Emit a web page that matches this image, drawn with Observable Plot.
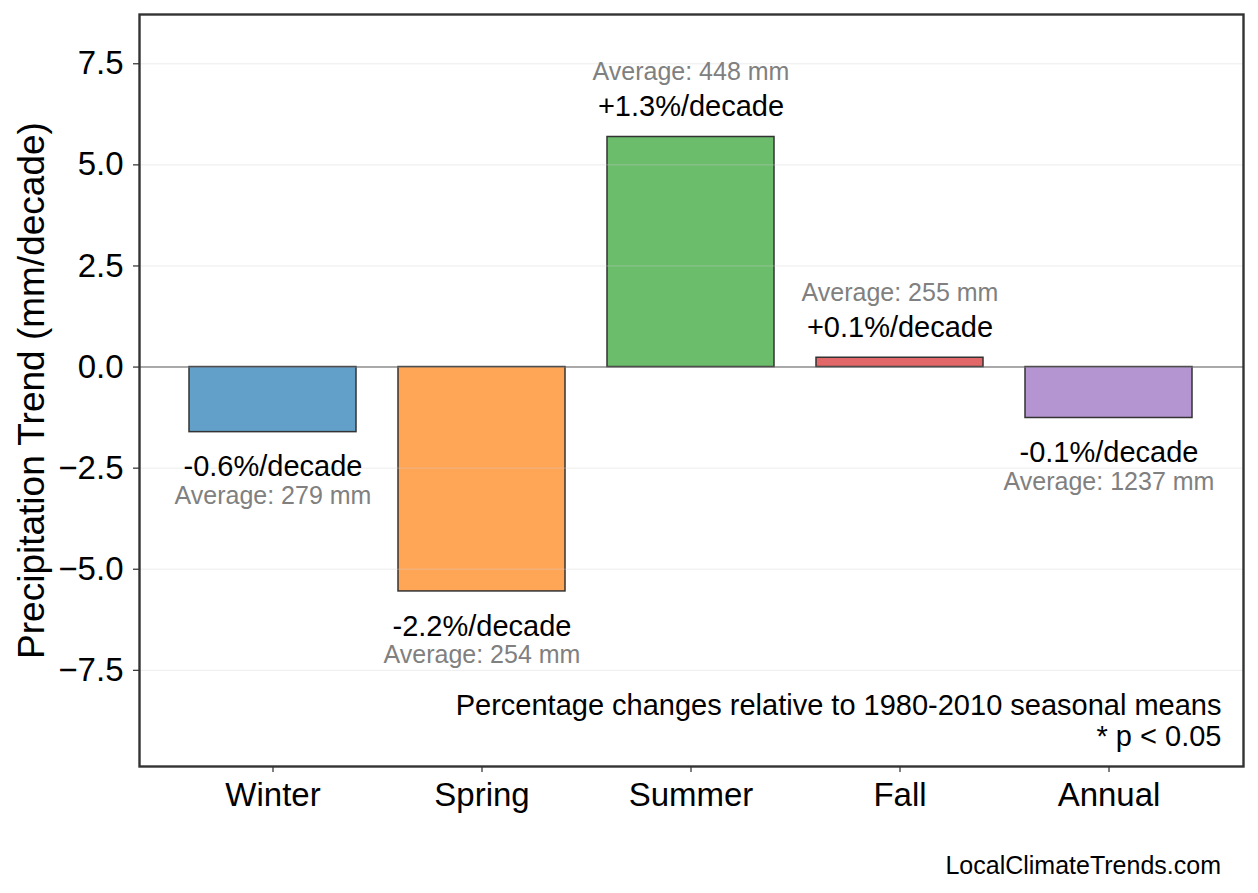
<!DOCTYPE html>
<html>
<head>
<meta charset="utf-8">
<script src="https://cdn.jsdelivr.net/npm/d3@7"></script>
<script src="https://cdn.jsdelivr.net/npm/@observablehq/plot@0.6"></script>
<style>
  body { margin: 0; background: white; font-family: "Liberation Sans", Arial, sans-serif; }
  #chart svg { display: block; }
  #site { text-align: right; padding-right: 37px; font-size: 25px; line-height: 30px; margin-top: 15px; color: black; }
</style>
</head>
<body>
<div id="chart"></div>
<div id="site">LocalClimateTrends.com</div>
<script>
const seasons = ["Winter", "Spring", "Summer", "Fall", "Annual"];
const trends = [-1.61, -5.55, 5.69, 0.23, -1.26];
const pctLabels = ["-0.6%/decade", "-2.2%/decade", "+1.3%/decade", "+0.1%/decade", "-0.1%/decade"];
const averages = [279, 254, 448, 255, 1237];
const colors = ["#1f77b4", "#ff7f0e", "#2ca02c", "#d62728", "#9467bd"];
const yTicks = [-7.5, -5, -2.5, 0, 2.5, 5, 7.5];
const yLabel = "Precipitation Trend (mm/decade)";
const note1 = "Percentage changes relative to 1980-2010 seasonal means";
const note2 = "* p < 0.05";

const rows = seasons.map((s, i) => ({
  season: s, trend: trends[i], pct: pctLabels[i],
  avg: `Average: ${averages[i]} mm`, color: colors[i]
}));
const pos = rows.filter(d => d.trend >= 0);
const neg = rows.filter(d => d.trend < 0);

const H = 835;
const chart = Plot.plot({
  width: 1258,
  height: H,
  marginLeft: 139,
  marginRight: 15,
  marginTop: 14,
  marginBottom: H - 766,
  style: { fontFamily: "Liberation Sans, Arial, sans-serif", fontSize: "33px", color: "black", background: "white" },
  x: { domain: seasons, paddingInner: 0.2, paddingOuter: 0.235, label: null, tickSize: 6, tickPadding: 10 },
  y: { domain: [-9.88, 8.72], label: null, ticks: yTicks, tickSize: 6, tickPadding: 10,
       tickFormat: d => d.toFixed(1).replace("-", "\u2212") },
  marks: [
    Plot.ruleY([0], { stroke: "#808080", strokeWidth: 1.5 }),
    Plot.barY(rows, { x: "season", y: "trend", fill: "color", fillOpacity: 0.7, stroke: "#333", strokeWidth: 1.5 }),
    Plot.ruleY(yTicks, { stroke: "#d0d0d0", strokeOpacity: 0.4, strokeWidth: 1 }),
    Plot.text(neg, { x: "season", y: "trend", text: "pct", dy: 35, fontSize: 29, fill: "black" }),
    Plot.text(neg, { x: "season", y: "trend", text: "avg", dy: 64, fontSize: 25, fill: "#808080" }),
    Plot.text(pos, { x: "season", y: "trend", text: "pct", dy: -30, fontSize: 29, fill: "black" }),
    Plot.text(pos, { x: "season", y: "trend", text: "avg", dy: -65, fontSize: 25, fill: "#808080" }),
    Plot.text([note1], { frameAnchor: "bottom-right", textAnchor: "end", dx: -22, dy: -52, fontSize: 29, fill: "black" }),
    Plot.text([note2], { frameAnchor: "bottom-right", textAnchor: "end", dx: -22, dy: -21, fontSize: 29, fill: "black" }),
    Plot.text([yLabel], { frameAnchor: "left", textAnchor: "middle", rotate: -90, dx: -107, fontSize: 37, fill: "black" }),
    Plot.frame({ stroke: "#333", strokeWidth: 2.4 })
  ]
});
document.getElementById("chart").appendChild(chart);
</script>
</body>
</html>
